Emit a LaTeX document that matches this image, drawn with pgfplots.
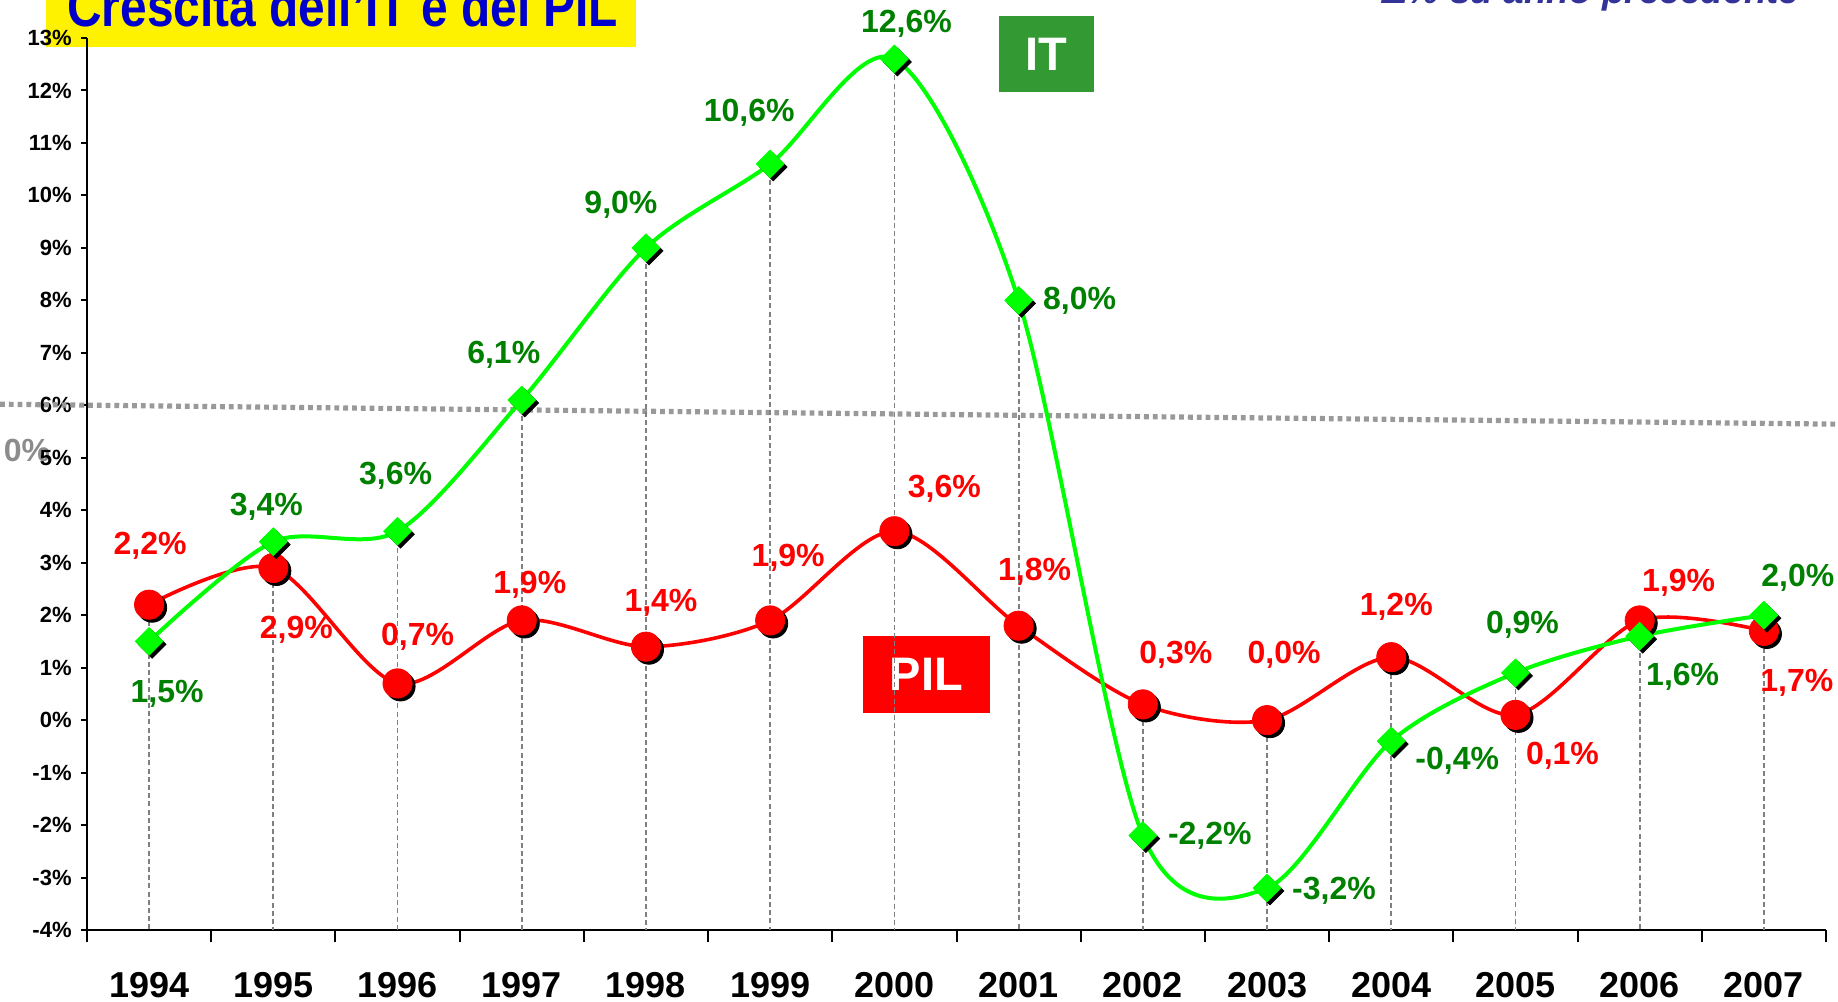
\documentclass[border=0pt]{standalone}
\usepackage{pgfplots}
\pgfplotsset{compat=1.18}
\usepackage{pgfplotstable}
\usepackage{graphicx}
\usepackage{fontspec}
\setmainfont{Liberation Sans}
\definecolor{itgreen}{RGB}{0,255,0}
\definecolor{itlab}{RGB}{0,128,0}
\definecolor{pilred}{RGB}{255,0,0}
\definecolor{boxgreen}{RGB}{51,153,51}
\definecolor{titleblue}{RGB}{0,0,204}
\definecolor{subblue}{RGB}{51,51,153}
\definecolor{dotgray}{RGB}{153,153,153}
\definecolor{zerogray}{RGB}{140,140,140}
\definecolor{dropgray}{RGB}{128,128,128}

\pgfplotstableread{
x it itdx itdy pil pildx pildy dmax derr
0 1.5 18 -52 2.2 1 59 2.2 6.2
1 3.4 -7 35 2.9 23 -62 3.4 7.4
2 3.6 -2 55 0.7 20 47 3.6 7.6
3 6.1 -18 45 1.9 8 36 6.1 10.1
4 9.0 -25 43 1.4 15 44 9.0 13.0
5 10.6 -21 51 1.9 18 63 10.6 14.6
6 12.6 12 35 3.6 50 42 12.6 16.6
7 8.0 61 0 1.8 16 54 8.0 12.0
8 -2.2 67 0 0.3 33 50 0.3 4.3
9 -3.2 67 -3 0.0 17 65 0.0 4.0
10 -0.4 66 -20 1.2 5 50 1.2 5.2
11 0.9 7 48 0.1 47 -41 0.9 4.9
12 1.6 43 -41 1.9 39 38 1.9 5.9
13 2.0 34 37 1.7 33 -52 2.0 6.0
}\datatab

\begin{document}
\begin{tikzpicture}
% background boxes
\fill[yellow] (-20.5pt,441.5pt) rectangle (274.5pt,480pt);
\node[anchor=base west, inner sep=0pt, text=titleblue, font=\bfseries\fontsize{28.5}{28.5}\selectfont] at (-10pt,451.5pt) {\scalebox{0.84}[1]{Crescita dell’IT e del PIL}};
\node[anchor=base east, inner sep=0pt, text=subblue, font=\bfseries\itshape\fontsize{18.5}{18.5}\selectfont] at (856.5pt,463.25pt) {Δ\% su anno precedente};
\fill[boxgreen] (456pt,419pt) rectangle (503.5pt,457pt);
\node[text=white, inner sep=0pt, font=\bfseries\fontsize{23.5}{23.5}\selectfont] at (479.75pt,438pt) {IT};
\fill[pilred] (388pt,108.5pt) rectangle (451.5pt,147pt);
\node[text=white, inner sep=0pt, font=\bfseries\fontsize{23.5}{23.5}\selectfont] at (419.75pt,127.75pt) {PIL};
\node[text=zerogray, inner sep=0pt, font=\bfseries\fontsize{16}{16}\selectfont] at (-30pt,240pt) {0\%};

\begin{axis}[
  at={(0,0)}, anchor=south west, scale only axis,
  width=869.5pt, height=446pt,
  xmin=-0.5, xmax=13.5, ymin=-4, ymax=13,
  clip=false,
  axis lines=left,
  axis line style={-, line width=1pt, black},
  xtick={0,...,13},
  xticklabels={1994,1995,1996,1997,1998,1999,2000,2001,2002,2003,2004,2005,2006,2007},
  major x tick style={draw=none},
  minor xtick={-0.5,0.5,...,13.5},
  ytick={-4,...,13},
  yticklabels={-4\%,-3\%,-2\%,-1\%,0\%,1\%,2\%,3\%,4\%,5\%,6\%,7\%,8\%,9\%,10\%,11\%,12\%,13\%},
  tick align=outside,
  major tick length=3pt, minor tick length=6pt,
  tick style={black, line width=1pt},
  xticklabel style={font=\bfseries\fontsize{18}{18}\selectfont, anchor=north, inner sep=0pt, yshift=-18pt},
  yticklabel style={font=\bfseries\fontsize{11}{11}\selectfont, anchor=east, inner sep=0pt, xshift=-4.5pt},
]
% gray dotted reference line
\addplot[dotgray, line width=2.6pt, dash pattern=on 2.4pt off 2pt, forget plot] coordinates {(-1.2,6.02) (13.6,5.64)};
% drop lines
\addplot[draw=none, mark=none, forget plot,
  error bars/.cd, y dir=minus, y explicit, error mark=none,
  error bar style={dropgray, line width=0.9pt, dash pattern=on 2.5pt off 1.6pt}]
  table[x=x, y=dmax, y error=derr]{\datatab};
% PIL
\addplot[pilred, line width=1.8pt, smooth, tension=0.5, no marks] table[x=x,y=pil]{\datatab};
\addplot[only marks, mark=*, mark size=7.3pt, black, mark options={xshift=1.5pt,yshift=-1.5pt}] table[x=x,y=pil]{\datatab};
\addplot[only marks, mark=*, mark size=7.3pt, pilred,
  point meta=explicit,
  visualization depends on={\thisrow{pildx} \as \lblx},
  visualization depends on={\thisrow{pildy} \as \lbly},
  nodes near coords={\pgfmathprintnumber[fixed,fixed zerofill,precision=1,use comma,assume math mode=true]{\pgfplotspointmeta}\%},
  every node near coord/.append style={anchor=center, xshift={\lblx*0.5pt}, yshift={\lbly*0.5pt}, text=pilred, inner sep=0pt, font=\bfseries\fontsize{16}{16}\selectfont}]
  table[x=x,y=pil,meta=pil]{\datatab};
% IT
\addplot[itgreen, line width=2pt, smooth, tension=0.5, no marks] table[x=x,y=it]{\datatab};
\addplot[only marks, mark=square*, mark size=4.9pt, black, mark options={xshift=1.5pt,yshift=-1.5pt,rotate=45}] table[x=x,y=it]{\datatab};
\addplot[only marks, mark=square*, mark size=4.9pt, itgreen, mark options={rotate=45},
  point meta=explicit,
  visualization depends on={\thisrow{itdx} \as \lblx},
  visualization depends on={\thisrow{itdy} \as \lbly},
  nodes near coords={\pgfmathprintnumber[fixed,fixed zerofill,precision=1,use comma,assume math mode=true]{\pgfplotspointmeta}\%},
  every node near coord/.append style={anchor=center, xshift={\lblx*0.5pt}, yshift={\lbly*0.5pt}, text=itlab, inner sep=0pt, font=\bfseries\fontsize{16}{16}\selectfont}]
  table[x=x,y=it,meta=it]{\datatab};
\end{axis}
\pgfresetboundingbox
\path[use as bounding box] (-43.5pt,-36pt) rectangle (875.5pt,465pt);
\end{tikzpicture}
\end{document}
